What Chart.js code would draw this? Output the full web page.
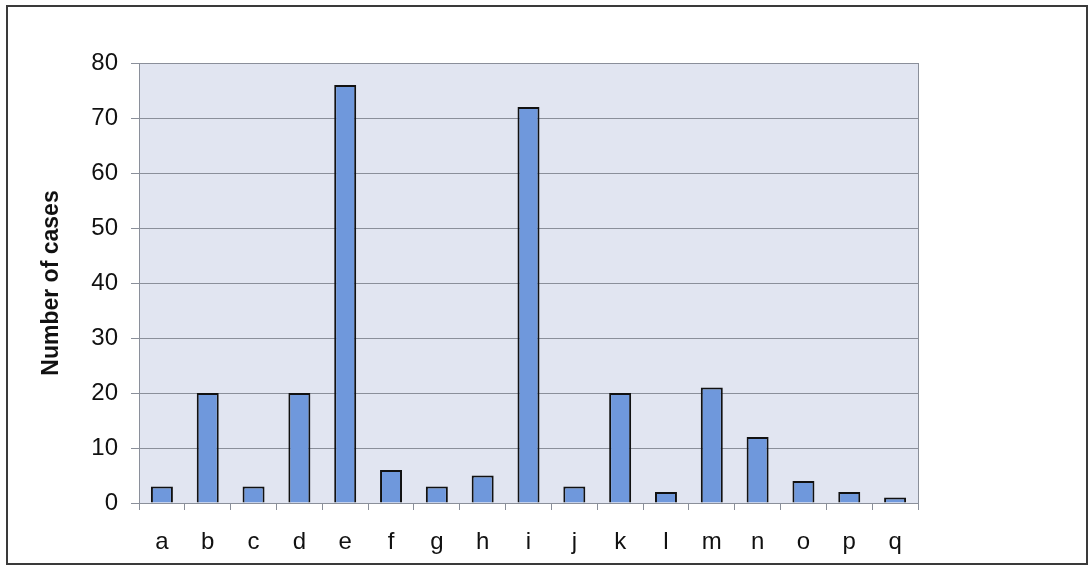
<!DOCTYPE html>
<html><head><meta charset="utf-8">
<script src="https://cdn.jsdelivr.net/npm/chart.js@4/dist/chart.umd.min.js"></script>
<style>html,body{margin:0;padding:0;background:#fff}#wrap{width:1089px;height:567px;position:relative}</style>
</head><body><div id="wrap"><canvas id="c" width="1089" height="567"></canvas></div>
<script>
const categories = ['a','b','c','d','e','f','g','h','i','j','k','l','m','n','o','p','q'];
const cases = [3,20,3,20,76,6,3,5,72,3,20,2,21,12,4,2,1];
const yTicks = [0,10,20,30,40,50,60,70,80];
const yTitle = 'Number of cases';

const bgPlugin = {
  id: 'bg',
  beforeDraw(chart){
    const {ctx, chartArea:a} = chart;
    ctx.save();
    ctx.fillStyle = '#fff';
    ctx.fillRect(0,0,chart.width,chart.height);
    ctx.fillStyle = '#e1e5f1';
    ctx.fillRect(a.left,a.top,a.right-a.left,a.bottom-a.top);
    ctx.strokeStyle = '#3a3a3a';
    ctx.lineWidth = 2;
    ctx.strokeRect(7,6,1080,558);
    ctx.restore();
  },
  afterDraw(chart){
    const {ctx, chartArea:a} = chart;
    ctx.save();
    ctx.strokeStyle = '#8a8f9a';
    ctx.lineWidth = 1;
    ctx.beginPath();
    ctx.moveTo(a.right+0.5,a.top);ctx.lineTo(a.right+0.5,a.bottom+7);
    ctx.stroke();
    ctx.restore();
  }
};

const FONT = 'Liberation Sans, Arial, sans-serif';
new Chart(document.getElementById('c'), {
  type:'bar',
  data:{labels:categories,datasets:[{data:cases,backgroundColor:'#6f98dc',borderColor:'#111',borderWidth:2,barPercentage:0.48,categoryPercentage:1}]},
  options:{
    responsive:false,animation:false,
    layout:{padding:{left:0,right:171,top:63,bottom:0}},
    plugins:{legend:{display:false},tooltip:{enabled:false}},
    scales:{
      x:{
        afterFit(s){s.height = 64;},
        grid:{offset:true,drawOnChartArea:false,drawTicks:true,tickLength:7,color:'#8a8f9a'},
        border:{color:'#8a8f9a'},
        ticks:{color:'#111',font:{family:FONT,size:24},padding:18}
      },
      y:{
        min:0,max:80,
        afterFit(s){s.width = 139;},
        afterBuildTicks(s){s.ticks = yTicks.map(v=>({value:v}));},
        grid:{color:'#8a8f9a',tickLength:8},
        border:{color:'#8a8f9a'},
        ticks:{color:'#111',font:{family:FONT,size:24},padding:13},
        title:{display:true,text:yTitle,color:'#111',font:{family:FONT,size:23,weight:'bold'},padding:{top:38,bottom:0}}
      }
    }
  },
  plugins:[bgPlugin]
});
</script></body></html>
